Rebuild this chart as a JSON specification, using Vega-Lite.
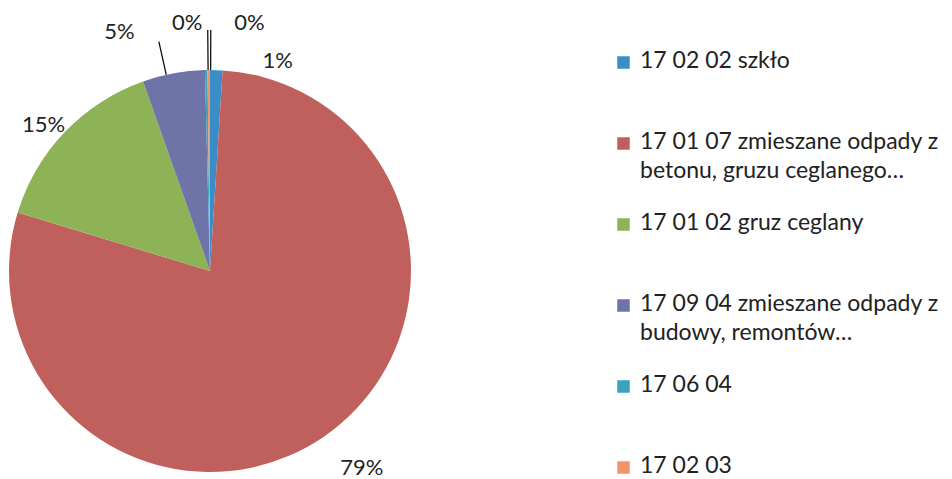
{
  "$schema": "https://vega.github.io/schema/vega-lite/v6.json",
  "width": 402,
  "height": 402,
  "autosize": {"type": "none"},
  "padding": {"left": 9, "top": 70, "right": 541, "bottom": 7},
  "background": "white",
  "config": {"view": {"stroke": null}, "font": "Lato"},
  "data": {
    "values": [
      {"nr": 1, "kod": "17 02 02 szkło", "udzial": 1.0, "etykieta": "1%"},
      {"nr": 2, "kod": "17 01 07 zmieszane odpady z betonu, gruzu ceglanego…", "udzial": 78.7, "etykieta": "79%"},
      {"nr": 3, "kod": "17 01 02 gruz ceglany", "udzial": 14.9, "etykieta": "15%"},
      {"nr": 4, "kod": "17 09 04 zmieszane odpady z budowy, remontów…", "udzial": 5.0, "etykieta": "5%"},
      {"nr": 5, "kod": "17 06 04", "udzial": 0.2, "etykieta": "0%"},
      {"nr": 6, "kod": "17 02 03", "udzial": 0.2, "etykieta": "0%"}
    ]
  },
  "encoding": {
    "theta": {"field": "udzial", "type": "quantitative", "stack": true},
    "order": {"field": "nr", "type": "quantitative"}
  },
  "layer": [
    {
      "mark": {"type": "arc", "outerRadius": 201},
      "encoding": {
        "color": {
          "field": "kod",
          "type": "nominal",
          "scale": {
            "domain": ["17 02 02 szkło", "17 01 07 zmieszane odpady z betonu, gruzu ceglanego…", "17 01 02 gruz ceglany", "17 09 04 zmieszane odpady z budowy, remontów…", "17 06 04", "17 02 03"],
            "range": ["#3A8DC6", "#C0605C", "#8DB356", "#6E73A8", "#3AA3BE", "#F0956A"]
          },
          "legend": {
            "title": null,
            "orient": "none",
            "legendX": 603,
            "legendY": -19,
            "padding": 0,
            "symbolType": "square",
            "symbolSize": 156,
            "symbolStrokeWidth": 0,
            "labelFont": "Lato",
            "labelFontSize": 23,
            "labelColor": "#222222",
            "labelLimit": 400,
            "labelOffset": 5,
            "rowPadding": 28,
            "gridAlign": "all",
            "labelBaseline": "top",
            "labelExpr": "datum.label == '17 01 07 zmieszane odpady z betonu, gruzu ceglanego…' ? ['17 01 07 zmieszane odpady z', 'betonu, gruzu ceglanego…'] : datum.label == '17 09 04 zmieszane odpady z budowy, remontów…' ? ['17 09 04 zmieszane odpady z', 'budowy, remontów…'] : datum.label",
            "encode": {
              "labels": {"update": {"dy": {"value": -13}, "lineHeight": {"value": 29}}}
            }
          }
        }
      }
    },
    {
      "transform": [
        {"stack": "udzial", "groupby": [], "sort": [{"field": "nr"}], "as": ["s", "e"]},
        {"filter": "datum.nr == 4"}
      ],
      "mark": {"type": "arc", "radius": 235, "radius2": 201, "thetaOffset": 0.12, "theta2Offset": 0.12, "fillOpacity": 0, "stroke": "#111111", "strokeWidth": 1.3},
      "encoding": {
        "theta": {"field": "s", "type": "quantitative"},
        "theta2": {"field": "s"}
      }
    },
    {
      "transform": [
        {"stack": "udzial", "groupby": [], "sort": [{"field": "nr"}], "as": ["s", "e"]},
        {"filter": "datum.nr >= 5"}
      ],
      "mark": {"type": "arc", "radius": 241, "radius2": 201, "thetaOffset": 0.0157, "theta2Offset": 0.0157, "fillOpacity": 0, "stroke": "#111111", "strokeWidth": 1.3},
      "encoding": {
        "theta": {"field": "s", "type": "quantitative"},
        "theta2": {"field": "s"}
      }
    },
    {
      "mark": {"type": "text", "radius": 211, "dx": 61, "dy": 1, "fontSize": 22, "font": "Lato"},
      "encoding": {
        "detail": {"field": "kod"},
        "color": {"value": "#222222"},
        "text": {"condition": {"test": "datum.nr == 1", "field": "etykieta"}, "value": ""}
      }
    },
    {
      "mark": {"type": "text", "radius": 249, "dx": 10, "dy": -8, "fontSize": 22, "font": "Lato"},
      "encoding": {
        "detail": {"field": "kod"},
        "color": {"value": "#222222"},
        "text": {"condition": {"test": "datum.nr == 2", "field": "etykieta"}, "value": ""}
      }
    },
    {
      "mark": {"type": "text", "radius": 222, "dx": -6, "dy": 7, "fontSize": 22, "font": "Lato"},
      "encoding": {
        "detail": {"field": "kod"},
        "color": {"value": "#222222"},
        "text": {"condition": {"test": "datum.nr == 3", "field": "etykieta"}, "value": ""}
      }
    },
    {
      "mark": {"type": "text", "radius": 240, "dx": -47, "dy": -3, "fontSize": 22, "font": "Lato"},
      "encoding": {
        "detail": {"field": "kod"},
        "color": {"value": "#222222"},
        "text": {"condition": {"test": "datum.nr == 4", "field": "etykieta"}, "value": ""}
      }
    },
    {
      "mark": {"type": "text", "radius": 250, "dx": -18, "dy": 2, "fontSize": 22, "font": "Lato"},
      "encoding": {
        "detail": {"field": "kod"},
        "color": {"value": "#222222"},
        "text": {"condition": {"test": "datum.nr == 5", "field": "etykieta"}, "value": ""}
      }
    },
    {
      "mark": {"type": "text", "radius": 250, "dx": 41, "dy": 2, "fontSize": 22, "font": "Lato"},
      "encoding": {
        "detail": {"field": "kod"},
        "color": {"value": "#222222"},
        "text": {"condition": {"test": "datum.nr == 6", "field": "etykieta"}, "value": ""}
      }
    }
  ]
}
